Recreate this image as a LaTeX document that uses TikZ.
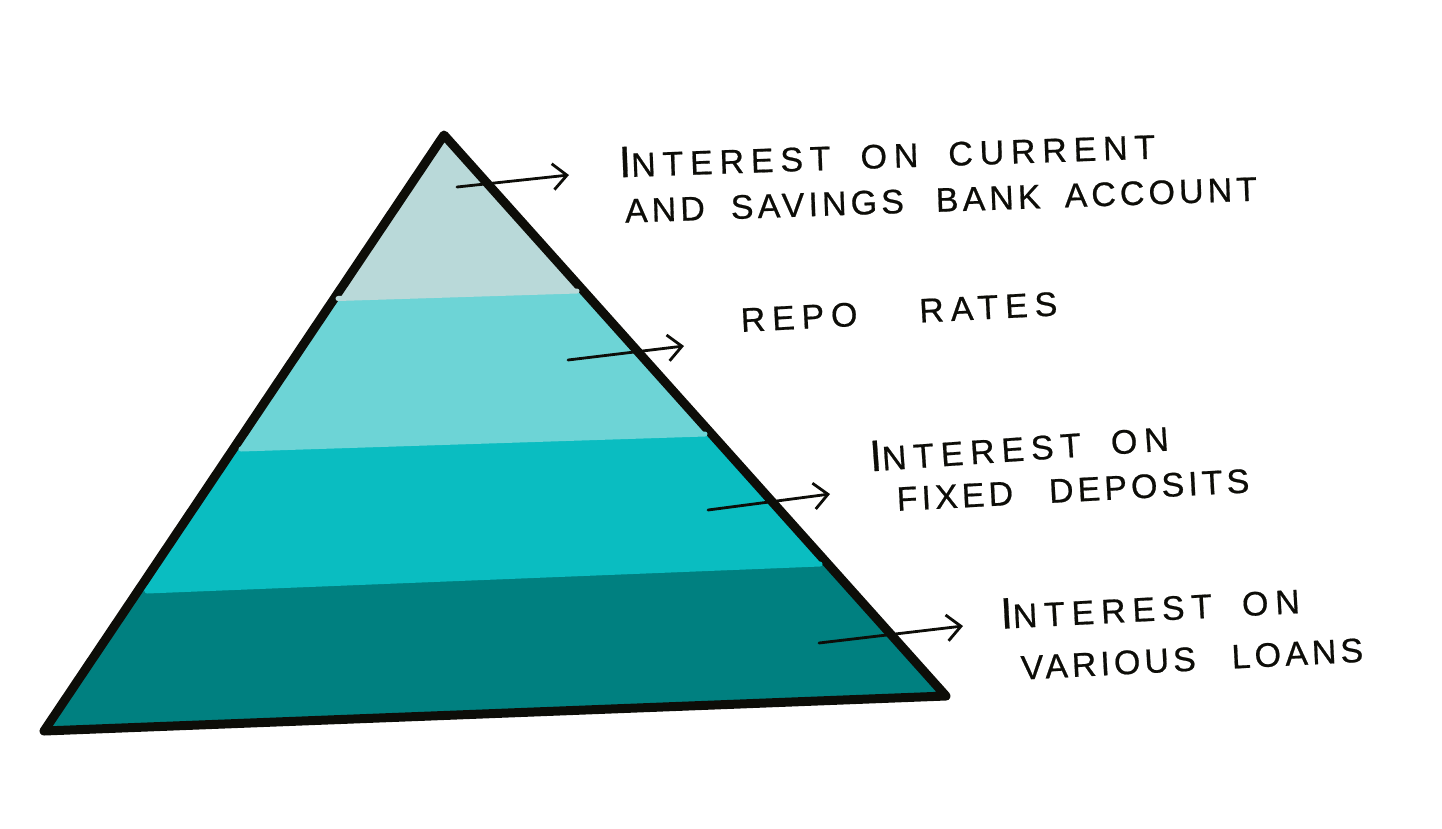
\documentclass[tikz,border=0pt]{standalone}
\usepackage{fontspec}
\newfontfamily\hand{Liberation Sans}[LetterSpace=20,FakeBold=0.6]
\usetikzlibrary{arrows.meta}
\definecolor{c1}{HTML}{B9D9D9}
\definecolor{c2}{HTML}{6DD4D6}
\definecolor{c3}{HTML}{0ABDC1}
\definecolor{c4}{HTML}{008080}
\definecolor{ink}{HTML}{0D0D08}
\newcommand{\bigL}[1]{{\fontsize{44}{44}\selectfont #1}}
\begin{document}
\begin{tikzpicture}[x=1pt,y=-1pt,
  lbl/.style={font=\hand\fontsize{34}{34}\selectfont, inner sep=0pt, text=ink, anchor=center},
  pointer/.style={draw=ink, line width=2.8pt, line cap=round,
    -{Straight Barb[length=14pt,width=26pt,line width=2.8pt]}},
  seam/.style={line width=5pt, line cap=round}]
\useasboundingbox (0,0) rectangle (1442,828);
\coordinate (apex) at (444,135);
\coordinate (bl) at (44,731);
\coordinate (br) at (946,696);
\begin{scope}
  \clip (apex) -- (br) -- (bl) -- cycle;
  \fill[c4] (0,0) rectangle (1442,828);
  \fill[c3] (0,0) -- (1442,0) -- (1442,539) -- (0,597) -- cycle;
  \fill[c2] (0,0) -- (1442,0) -- (1442,410.5) -- (0,456.7) -- cycle;
  \fill[c1] (0,0) -- (1442,0) -- (1442,262) -- (0,310) -- cycle;
\end{scope}
\draw[ink, line width=9pt, line join=round, line cap=round] (apex) -- (br) -- (bl) -- cycle;
\coordinate (s1l) at (338,298.5);
\coordinate (s1r) at (577,291);
\coordinate (s2l) at (241,449);
\coordinate (s2r) at (705,434);
\coordinate (s3l) at (147,591);
\coordinate (s3r) at (820,564);
\draw[seam, c1] (s1l) -- (s1r);
\draw[seam, c2] (s2l) -- (s2r);
\draw[seam, c3] (s3l) -- (s3r);
% arrows
\coordinate (a1s) at (457,187); \coordinate (a1e) at (569,175);
\coordinate (a2s) at (568,360); \coordinate (a2e) at (684,346);
\coordinate (a3s) at (708,510); \coordinate (a3e) at (830,494);
\coordinate (a4s) at (819,643); \coordinate (a4e) at (963,626);
\draw[pointer] (a1s) -- (a1e);
\draw[pointer] (a2s) -- (a2e);
\draw[pointer] (a3s) -- (a3e);
\draw[pointer] (a4s) -- (a4e);
% labels
\node[lbl, rotate=2] (t1a) at (887,153) {\bigL{I}NTEREST\hspace{30pt}ON\hspace{30pt}CURRENT};
\node[lbl, rotate=2] (t1b) at (941,200) {\addfontfeature{LetterSpace=12}AND\hspace{26pt}SAVINGS\hspace{32pt}BANK\hspace{24pt}ACCOUNT};
\node[lbl, rotate=3] (t2) at (899,312) {REPO\hspace{62pt}RATES};
\node[lbl, rotate=4] (t3a) at (1019,446) {\bigL{I}NTEREST\hspace{30pt}ON};
\node[lbl, rotate=3] (t3b) at (1073,490) {\addfontfeature{LetterSpace=12}FIXED\hspace{36pt}DEPOSITS};
\node[lbl, rotate=3] (t4a) at (1150,606) {\bigL{I}NTEREST\hspace{30pt}ON};
\node[lbl, rotate=3] (t4b) at (1192,659) {\addfontfeature{LetterSpace=12}VARIOUS\hspace{36pt}LOANS};
\end{tikzpicture}
\end{document}
